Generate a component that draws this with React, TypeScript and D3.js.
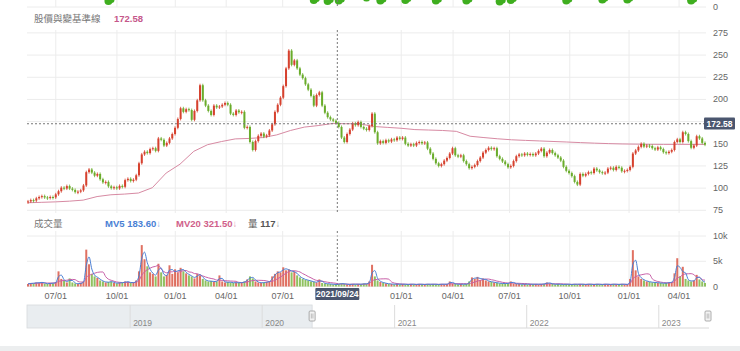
import React from 'react';
import * as d3 from 'd3';

// ---------------- data ----------------
const START_DATE = '2020-05-18';
const END_DATE = '2023-05-17';
const MARKET_HOLIDAYS = [
  '2020-06-25', '2020-06-26', '2020-10-01', '2020-10-02', '2020-10-09',
  '2021-01-01', '2021-02-08', '2021-02-09', '2021-02-10', '2021-02-11', '2021-02-12', '2021-02-15', '2021-02-16',
  '2021-03-01', '2021-04-02', '2021-04-05', '2021-04-30', '2021-06-14', '2021-09-20', '2021-09-21', '2021-10-11', '2021-12-31',
  '2022-01-27', '2022-01-28', '2022-01-31', '2022-02-01', '2022-02-02', '2022-02-03', '2022-02-04', '2022-02-28',
  '2022-04-04', '2022-04-05', '2022-05-02', '2022-06-03', '2022-09-09', '2022-10-10',
  '2023-01-02', '2023-01-18', '2023-01-19', '2023-01-20', '2023-01-23', '2023-01-24', '2023-01-25', '2023-01-26', '2023-01-27',
  '2023-02-27', '2023-02-28', '2023-04-03', '2023-04-04', '2023-04-05', '2023-05-01',
];

// closing price, one sample every 3 trading days
const CLOSE = [
  85, 86.5, 86, 88.5, 90, 91, 89.5, 88.8, 90, 89.5,
  93, 96.5, 100.5, 99.5, 102.3, 99.5, 98, 95.5, 96, 97.5,
  103, 118, 121, 117.5, 114, 116, 110, 106.5, 107, 102,
  100, 101, 99.7, 102.5, 101.5, 109, 110.5, 108, 109.5, 114.5,
  128, 138, 141, 139.5, 144, 145, 142, 156, 154.5, 148,
  151, 156, 161, 168, 178, 190, 186, 189, 188, 177,
  187, 199, 216, 199, 193, 187, 182.5, 193, 191, 192,
  194, 196, 194, 184, 182.5, 187.5, 185.5, 186, 168, 169,
  152, 143, 153, 159, 161.5, 158, 159.5, 165, 172, 186,
  194, 202, 215, 235, 255, 239, 244, 235, 228, 224,
  217, 211, 204, 193, 205, 208, 193, 185, 180, 177.5,
  176, 173.5, 169, 157, 152, 161, 166, 173, 171, 174.5,
  169, 167, 165.5, 170, 184, 163, 150.5, 153, 151, 154,
  152.5, 155, 154, 157, 155.5, 157, 150, 148, 149.5, 148,
  151, 152, 150.5, 151.5, 144.5, 139, 133, 128, 125, 127,
  131, 134, 139, 145, 137, 135.5, 137, 130.5, 127, 122.5,
  124, 126, 130.5, 134.5, 140, 143, 145.5, 144, 145, 136,
  133, 130, 127, 123.5, 125, 130.5, 136, 138, 137, 139,
  137.5, 138.5, 137, 139, 142, 144.5, 136, 140, 143, 139.5,
  137, 134.5, 131, 124, 119.5, 117, 113.5, 107, 104, 116,
  114, 116, 118, 117, 122, 120, 118, 117, 117.5, 122,
  123, 120.5, 124, 123, 119, 119.5, 120.5, 124, 139, 142.5,
  146.5, 150, 146.8, 148, 147.5, 145, 143.5, 146, 144, 140.5,
  139.5, 141, 143, 152, 155, 152, 163, 161, 153, 145.5,
  148, 158.5, 156, 151, 149,
];

// volume (thousand lots), same sampling as CLOSE
const VOLUME_K = [
  0.5, 0.7, 0.6, 0.8, 0.7, 0.9, 0.6, 0.5, 0.7, 0.6, 0.9,
  3.0, 1.5, 1.2, 0.8, 1.6, 0.8, 0.6, 0.5, 0.7, 1.0,
  7.3, 4.4, 2.5, 2.0, 1.7, 1.2, 1.0, 0.8, 0.9, 1.0,
  0.7, 0.6, 0.8, 0.7, 1.0, 0.9, 0.7, 0.8, 1.2, 3.0,
  8.2, 5.4, 4.0, 2.8, 2.5, 2.0, 4.5, 2.8, 2.0, 2.3,
  4.2, 2.5, 3.4, 2.8, 3.7, 3.0, 2.6, 2.2, 2.0, 1.6,
  2.5, 2.2, 1.5, 1.2, 1.0, 1.1, 0.9, 1.0, 2.2, 1.0,
  0.8, 0.9, 0.8, 0.7, 0.8, 0.7, 0.8, 1.0, 1.4, 2.0,
  1.6, 1.0, 0.8, 0.7, 0.8, 0.9, 1.0, 2.0, 2.5, 3.0,
  2.8, 3.8, 3.2, 3.4, 2.8, 3.0, 2.2, 1.8, 1.5, 1.3,
  1.2, 1.0, 0.9, 0.8, 1.4, 0.7, 0.6, 0.5, 0.5, 0.4,
  0.4, 0.5, 0.6, 0.5, 0.4, 0.4, 0.5, 0.4, 0.5, 0.4,
  0.6, 0.5, 1.0, 4.3, 2.0, 1.2, 0.9, 0.7, 0.6, 0.5,
  0.5, 0.4, 0.5, 0.4, 0.5, 0.4, 0.4, 0.5, 0.4, 0.4,
  0.5, 0.4, 0.4, 0.5, 0.4, 0.5, 0.4, 0.4, 0.5, 0.4,
  0.5, 1.0, 0.6, 0.5, 0.4, 0.5, 0.4, 0.5, 1.0, 1.8,
  1.5, 1.9, 1.3, 1.6, 1.2, 1.0, 0.9, 0.8, 0.7, 0.6,
  0.6, 0.6, 0.6, 1.0, 0.6, 0.5, 0.5, 0.4, 0.5, 0.4,
  0.5, 0.4, 0.5, 0.4, 0.5, 0.5, 0.8, 0.6, 0.5, 0.4,
  0.5, 0.4, 0.4, 0.5, 0.4, 0.4, 0.5, 0.4, 0.5, 0.4,
  0.4, 0.5, 0.4, 0.4, 0.5, 0.4, 0.4, 0.5, 0.4, 0.4,
  0.5, 0.4, 0.4, 0.5, 0.4, 0.4, 1.5, 7.2, 3.2, 2.0,
  1.5, 1.2, 1.0, 0.9, 0.8, 0.8, 0.7, 0.7, 0.6, 0.7,
  0.8, 0.9, 2.6, 5.6, 2.0, 3.9, 1.5, 1.2, 1.0, 1.2,
  2.3, 1.4, 1.0, 0.7,
];

// baseline (pink) line, 50 evenly spaced samples across the range
const BASELINE = [
  83.5, 84, 84.5, 85.3, 86.5, 90.5, 92.5, 93.3, 94.5, 100.5,
  117, 127, 141.5, 149, 152.5, 155.5, 156, 157, 160, 165,
  168.8, 170.5, 172.8, 172.6, 172.6, 169.5, 168.5, 167.5, 166, 165.5,
  165, 164, 158.5, 157, 155.6, 154.5, 153.8, 153.2, 152.6, 152,
  151.3, 150.7, 150.2, 149.8, 149.6, 149.4, 149.3, 149.3, 149.3, 149.3,
];

const MONTH_TICKS = [
  '2020-07-01', '2020-10-01', '2021-01-01', '2021-04-01', '2021-07-01',
  '2022-01-01', '2022-04-01', '2022-07-01', '2022-10-01', '2023-01-01', '2023-04-01',
];
const YEAR_TICKS = ['2019', '2020', '2021', '2022', '2023'];
const PRICE_GRID = [75, 100, 125, 150, 175, 200, 225, 250, 275];
const PRICE_LABELS = [75, 100, 125, 150, 200, 225, 250, 275];
const VOLUME_TICKS = [0, 5, 10];
const CROSS_DATE = '2021-09-24';
const CROSS_PRICE = 172.58;
const NAV_START = '2018-03-22';
const NAV_END = '2023-05-17';
// upper pane (cut off) green markers: sample index and value
const TOP_DOT_IDX = [29, 103, 108, 112, 122, 127, 136, 147, 158, 170, 174, 194, 207, 216, 239];
const TOP_DOT_VAL = [1.2, 1.4, 1.2, 1.3, 1.9, 1.3, 1.4, 1.3, 1.3, 1.1, 1.4, 1.3, 1.5, 1.5, 1.3];
const PRICE_TITLE = '股價與變基準線';
const VOLUME_TITLE = '成交量';
const MV5_VALUE = '183.60';
const MV20_VALUE = '321.50';
const VOL_VALUE = '117';

// ---------------- helpers ----------------
function parseISO(s: string) {
  const [y, m, d] = s.split('-').map(Number);
  return new Date(Date.UTC(y, (m || 1) - 1, d || 1));
}
function buildTradingDays() {
  const hol = new Set(MARKET_HOLIDAYS);
  const out: string[] = [];
  const end = parseISO(END_DATE).getTime();
  for (let t = parseISO(START_DATE).getTime(); t <= end; t += 86400000) {
    const d = new Date(t);
    const wd = d.getUTCDay();
    if (wd === 0 || wd === 6) continue;
    const iso = d.toISOString().slice(0, 10);
    if (hol.has(iso)) continue;
    out.push(iso);
  }
  return out;
}

const FONT = "'Liberation Sans', Arial, 'Noto Sans CJK TC', sans-serif";
const CJK = "'Noto Sans CJK TC', 'Liberation Sans', sans-serif";
const UP = '#d6412e';
const DOWN = '#6aac2b';
const GRID = '#ececec';
const AXIS_TEXT = '#666';
const BOX = '#4b566f';
const WICK = 1.5;

export default function App() {
  const W = 740, H = 351;
  const X0 = 28, X1 = 705;
  const days = buildTradingDays();
  const T = days.length;
  const N = CLOSE.length;
  const x = d3.scaleLinear().domain([0, T - 1]).range([X0, X1]);
  const tIdx = (iso: string) => d3.bisectLeft(days, iso);
  const sx = (i: number) => x((i * (T - 1)) / (N - 1));

  const yP = d3.scaleLinear().domain([75, 275]).range([210.3, 32.9]);
  const yV = d3.scaleLinear().domain([0, 10]).range([286.5, 236]);
  const yTop = d3.scaleLinear().domain([0, 10]).range([7, -43]);

  const nav = d3.scaleUtc().domain([parseISO(NAV_START), parseISO(NAV_END)]).range([27, 708]);
  const navSel0 = nav(parseISO(START_DATE));
  const navSel1 = nav(parseISO(END_DATE));

  const opens = CLOSE.map((c, i) => (i === 0 ? c - 0.8 : CLOSE[i - 1]));
  const rolling = (w: number) => VOLUME_K.map((_, i) => d3.mean(VOLUME_K.slice(Math.max(0, i - w + 1), i + 1)) as number);
  const mv5 = rolling(2);
  const mv20 = rolling(7);

  const volLine = d3.line<number>().x((_, i) => sx(i)).y((d) => yV(d)).curve(d3.curveMonotoneX);
  const baseLine = d3.line<number>()
    .x((_, k) => sx((k * (N - 1)) / (BASELINE.length - 1)))
    .y((d) => yP(d));

  const monthX = MONTH_TICKS.map((m) => ({ m, x: x(tIdx(m)) }));
  const fmtMD = d3.utcFormat('%m/%d');
  const crossX = x(tIdx(CROSS_DATE));
  const crossY = yP(CROSS_PRICE);
  const bw = 2;

  const segs: [number, number][] = [[0, 7], [30, 213], [231, 287]];

  return (
    <svg width={W} height={H} style={{ position: 'absolute', left: 0, top: 0, fontFamily: FONT }}>
      <rect x={0} y={0} width={W} height={H} fill="#fff" />
      <defs>
        <clipPath id="plot"><rect x={X0 - 2} y={0} width={X1 - X0 + 3} height={300} /></clipPath>
        <clipPath id="topclip"><rect x={X0 - 2} y={0} width={X1 - X0 + 3} height={7} /></clipPath>
      </defs>

      {/* vertical grid */}
      {monthX.map((t) => segs.map(([a, b], j) => (
        <line key={t.m + j} x1={t.x} x2={t.x} y1={a} y2={b} stroke={GRID} strokeWidth={1} />
      )))}

      {/* top pane remnants */}
      <line x1={X0 - 1} x2={X1 + 1} y1={7} y2={7} stroke={GRID} />
      <text x={713} y={10} fontSize={9} fill={AXIS_TEXT}>0</text>
      <g clipPath="url(#topclip)">
        {TOP_DOT_IDX.map((idx, k) => (
          <g key={k} fill="#3fae1f">
            <circle cx={sx(idx)} cy={yTop(TOP_DOT_VAL[k])} r={4} />
            <circle cx={sx(idx) + 3} cy={yTop(TOP_DOT_VAL[k]) - 1} r={3} />
          </g>
        ))}
      </g>

      {/* price pane */}
      {PRICE_GRID.map((v) => (
        <line key={v} x1={X0 - 1} x2={X1 + 1} y1={yP(v)} y2={yP(v)} stroke={GRID} />
      ))}
      {PRICE_LABELS.map((v) => (
        <text key={v} x={713} y={yP(v) + 3} fontSize={9} fill={AXIS_TEXT}>{v}</text>
      ))}
      <text x={34} y={22} fontSize={9.5} fill="#777" fontFamily={CJK}>{PRICE_TITLE}</text>
      <text x={114} y={22} fontSize={9.5} fill="#c5578a" fontWeight="bold">{CROSS_PRICE.toFixed(2)}</text>

      <g clipPath="url(#plot)">
        <path d={baseLine(BASELINE) || ''} fill="none" stroke="#d78aa3" strokeWidth={1} />
        {CLOSE.map((c, i) => {
          const o = opens[i];
          const up = c >= o;
          const col = up ? UP : DOWN;
          const top = yP(Math.max(o, c));
          const bot = yP(Math.min(o, c));
          const h = Math.max(1, bot - top);
          return (
            <g key={i}>
              <line x1={sx(i)} x2={sx(i)} y1={top - WICK} y2={top + h + WICK} stroke={col} strokeWidth={0.8} />
              <rect x={sx(i) - bw / 2} y={top} width={bw} height={h} fill={col} />
            </g>
          );
        })}
      </g>

      {/* crosshair */}
      <line x1={X0 - 1} x2={X1 + 1} y1={crossY} y2={crossY} stroke="#777" strokeDasharray="2,2" />
      {segs.map(([a, b], j) => (
        <line key={j} x1={crossX} x2={crossX} y1={a} y2={b} stroke="#777" strokeDasharray="2,2" />
      ))}
      <rect x={704} y={117.5} width={31} height={12} fill={BOX} rx={1} />
      <text x={719.5} y={126.6} fontSize={8.5} fill="#fff" fontWeight="bold" textAnchor="middle">{CROSS_PRICE.toFixed(2)}</text>

      {/* volume pane */}
      {VOLUME_TICKS.map((v) => (
        <g key={v}>
          <line x1={X0 - 1} x2={X1 + 1} y1={yV(v)} y2={yV(v)} stroke={GRID} />
          <text x={713} y={yV(v) + 3} fontSize={9} fill={AXIS_TEXT}>{v === 0 ? '0' : `${v}k`}</text>
        </g>
      ))}
      <text x={34} y={227} fontSize={9.5} fill="#777" fontFamily={CJK}>{VOLUME_TITLE}</text>
      <text x={105} y={227} fontSize={9.5} fontWeight="bold" fill="#4a7fd4">MV5 {MV5_VALUE}<tspan fontWeight="normal" fillOpacity={0.7}>↓</tspan></text>
      <text x={176} y={227} fontSize={9.5} fontWeight="bold" fill="#d0608a">MV20 {MV20_VALUE}<tspan fontWeight="normal" fillOpacity={0.7}>↓</tspan></text>
      <text x={248} y={227} fontSize={9.5} fill="#555"><tspan fontFamily={CJK}>量</tspan> <tspan fontWeight="bold">{VOL_VALUE}</tspan><tspan fillOpacity={0.6}>↓</tspan></text>

      <g clipPath="url(#plot)">
        {VOLUME_K.map((v, i) => {
          const up = CLOSE[i] >= opens[i];
          return (
            <rect key={i} x={sx(i) - bw / 2} y={yV(v)} width={bw} height={yV(0) - yV(v)} fill={up ? UP : DOWN} fillOpacity={0.75} />
          );
        })}
        <path d={volLine(mv20) || ''} fill="none" stroke="#c860a8" strokeWidth={1} />
        <path d={volLine(mv5) || ''} fill="none" stroke="#4a7fd4" strokeWidth={1} />
      </g>

      {/* x axis labels */}
      {monthX.map((t) => (
        <text key={t.m} x={t.x} y={299} fontSize={9} fill={AXIS_TEXT} textAnchor="middle">{fmtMD(parseISO(t.m))}</text>
      ))}
      <rect x={crossX - 22} y={288} width={44} height={12} fill={BOX} rx={1} />
      <text x={crossX} y={297.2} fontSize={8.5} fill="#fff" fontWeight="bold" textAnchor="middle">{CROSS_DATE.replace(/-/g, '/')}</text>

      {/* navigator */}
      <rect x={27} y={305} width={navSel0 - 27} height={23} fill="#e9edf0" stroke="#d6dadd" strokeWidth={0.8} />
      <line x1={navSel0} x2={709} y1={328} y2={328} stroke="#d8d8d8" />
      {YEAR_TICKS.map((yr) => {
        const px = nav(parseISO(`${yr}-01-01`));
        return (
          <g key={yr}>
            <line x1={px} x2={px} y1={305} y2={328} stroke="#dcdcdc" />
            <text x={px + 3} y={326} fontSize={8.5} fill="#888">{yr}</text>
          </g>
        );
      })}
      {[navSel0, navSel1].map((px, k) => (
        <g key={k}>
          <rect x={px - 3} y={311} width={6} height={10} fill="#f3f3f3" stroke="#999" strokeWidth={0.8} rx={1} />
          <line x1={px - 0.8} x2={px - 0.8} y1={313.5} y2={318.5} stroke="#999" strokeWidth={0.6} />
          <line x1={px + 0.8} x2={px + 0.8} y1={313.5} y2={318.5} stroke="#999" strokeWidth={0.6} />
        </g>
      ))}

      {/* scrollbar */}
      <rect x={0} y={346} width={W} height={5} fill="#eceeef" />
    </svg>
  );
}
